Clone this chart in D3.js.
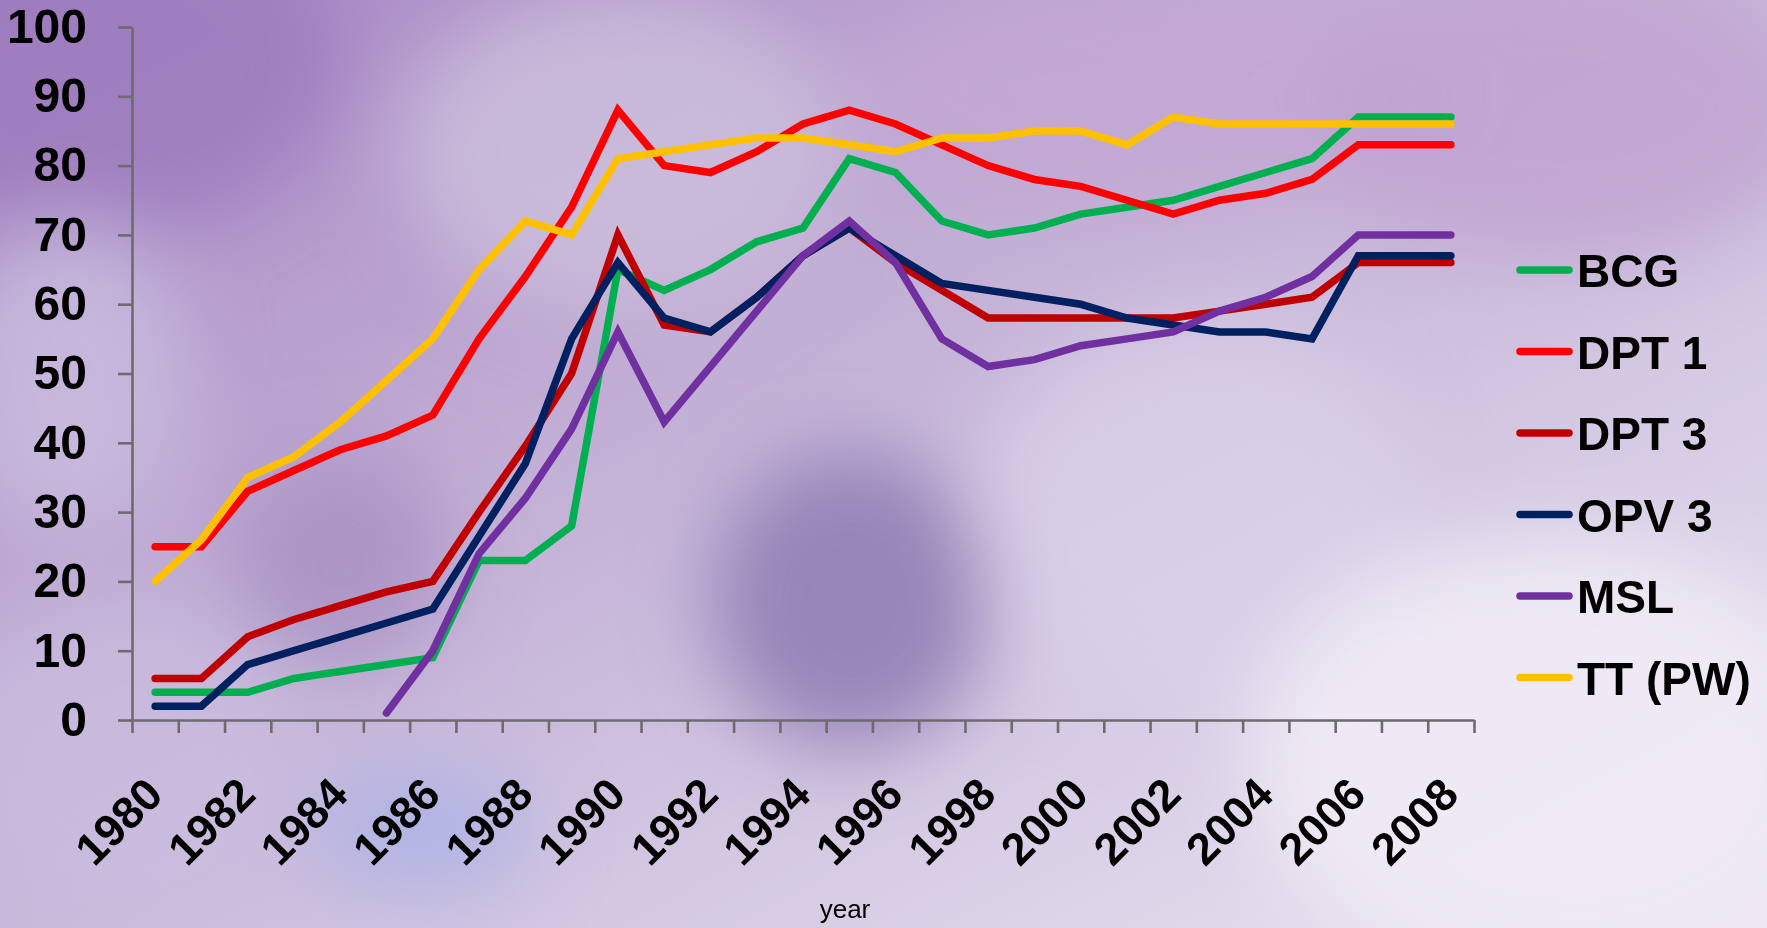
<!DOCTYPE html>
<html lang="en">
<head>
    <meta charset="UTF-8">
    <title>Immunization coverage</title>
    <script src="https://d3js.org/d3.v7.min.js"></script>
    <style>
        body {
            margin: 0;
            overflow: hidden;
        }
        svg text {
            font-family: "Liberation Sans", Arial, sans-serif;
            fill: #000;
        }
        .axis path, .axis line {
            stroke: #6e6a70;
            stroke-width: 2.6px;
        }
        .axis text {
            font-size: 48px;
            font-weight: bold;
        }
        .xlabel {
            font-size: 45px;
            font-weight: bold;
        }
        .legend text {
            font-size: 46px;
            font-weight: bold;
        }
        .series {
            fill: none;
            stroke-width: 7.5px;
            stroke-linecap: round;
        }
    </style>
</head>
<body>
    <div id="chart"></div>

    <script>
        // datos
        var years = [1980, 1981, 1982, 1983, 1984, 1985, 1986, 1987, 1988, 1989,
                     1990, 1991, 1992, 1993, 1994, 1995, 1996, 1997, 1998, 1999,
                     2000, 2001, 2002, 2003, 2004, 2005, 2006, 2007, 2008];
        var yearLabels = [1980, 1982, 1984, 1986, 1988, 1990, 1992, 1994,
                          1996, 1998, 2000, 2002, 2004, 2006, 2008];
        var yTicks = [0, 10, 20, 30, 40, 50, 60, 70, 80, 90, 100];

        var seriesNames = ["BCG", "DPT 1", "DPT 3", "OPV 3", "MSL", "TT (PW)"];
        var seriesColors = ["#00b050", "#ff0000", "#c00000", "#002060", "#7030a0", "#ffc000"];

        var bcg  = [4, 4, 4, 6, 7, 8, 9, 23, 23, 28, 65, 62, 65, 69, 71, 81, 79, 72, 70, 71, 73, 74, 75, 77, 79, 81, 87, 87, 87];
        var dpt1 = [25, 25, 33, 36, 39, 41, 44, 55, 64, 74, 88, 80, 79, 82, 86, 88, 86, 83, 80, 78, 77, 75, 73, 75, 76, 78, 83, 83, 83];
        var dpt3 = [6, 6, 12, 14.5, 16.5, 18.5, 20, 30, 39.5, 50, 70, 57, 56, 61, 67, 71, 66, 62, 58, 58, 58, 58, 58, 59, 60, 61, 66, 66, 66];
        var opv3 = [2, 2, 8, 10, 12, 14, 16, 26.5, 37, 55, 66, 58, 56, 61, 67, 71, 67, 63, 62, 61, 60, 58, 57, 56, 56, 55, 67, 67, 67];
        var msl  = [null, null, null, null, null, 1, 10, 24, 32, 42, 56, 43, 51, 59, 67, 72, 66, 55, 51, 52, 54, 55, 56, 59, 61, 64, 70, 70, 70];
        var tt   = [20, 26, 35, 38, 43, 49, 55, 65, 72, 70, 81, 82, 83, 84, 84, 83, 82, 84, 84, 85, 85, 83, 87, 86, 86, 86, 86, 86, 86];

        var seriesValues = [bcg, dpt1, dpt3, opv3, msl, tt];

        var width = 1767;
        var height = 928;
        var plot = { left: 132, right: 1474, top: 27, bottom: 720 };

        var svg = d3.select("#chart")
            .append("svg")
            .attr("width", width)
            .attr("height", height);

        // fondo difuminado
        var defs = svg.append("defs");
        defs.append("filter").attr("id", "blur")
            .attr("x", "-50%").attr("y", "-50%").attr("width", "200%").attr("height", "200%")
            .append("feGaussianBlur").attr("stdDeviation", 40);

        var base = defs.append("linearGradient").attr("id", "bg")
            .attr("x1", "0").attr("y1", "0").attr("x2", "1").attr("y2", "1");
        base.append("stop").attr("offset", "0").attr("stop-color", "#a686c4");
        base.append("stop").attr("offset", "0.35").attr("stop-color", "#bfaad3");
        base.append("stop").attr("offset", "0.7").attr("stop-color", "#d6cbe4");
        base.append("stop").attr("offset", "1").attr("stop-color", "#ece6f2");

        svg.append("rect")
            .attr("width", width)
            .attr("height", height)
            .attr("fill", "url(#bg)");

        var blobs = svg.append("g").attr("filter", "url(#blur)");
        blobs.append("ellipse").attr("cx", 80).attr("cy", 60).attr("rx", 260).attr("ry", 180)
            .attr("fill", "#9c7bbd").attr("opacity", 0.8);
        blobs.append("ellipse").attr("cx", 620).attr("cy", 150).attr("rx", 220).attr("ry", 160)
            .attr("fill", "#cdbfdc").attr("opacity", 0.8);
        blobs.append("ellipse").attr("cx", 1150).attr("cy", 90).attr("rx", 300).attr("ry", 120)
            .attr("fill", "#c3a8d3").attr("opacity", 0.8);
        blobs.append("ellipse").attr("cx", 1560).attr("cy", 110).attr("rx", 260).attr("ry", 150)
            .attr("fill", "#bfa3d0").attr("opacity", 0.85);
        blobs.append("ellipse").attr("cx", 70).attr("cy", 380).attr("rx", 120).attr("ry", 160)
            .attr("fill", "#cbbddf").attr("opacity", 0.8);
        blobs.append("ellipse").attr("cx", 850).attr("cy", 600).attr("rx", 140).attr("ry", 150)
            .attr("fill", "#917fb5").attr("opacity", 0.9);
        blobs.append("ellipse").attr("cx", 340).attr("cy", 560).attr("rx", 110).attr("ry", 110)
            .attr("fill", "#a48bbf").attr("opacity", 0.7);
        blobs.append("ellipse").attr("cx", 420).attr("cy", 830).attr("rx", 110).attr("ry", 60)
            .attr("fill", "#a7b2e6").attr("opacity", 0.8);
        blobs.append("ellipse").attr("cx", 1200).attr("cy", 520).attr("rx", 220).attr("ry", 200)
            .attr("fill", "#dcd3ea").attr("opacity", 0.7);
        blobs.append("ellipse").attr("cx", 1550).attr("cy", 760).attr("rx", 300).attr("ry", 220)
            .attr("fill", "#f0ebf5").attr("opacity", 0.9);
        blobs.append("ellipse").attr("cx", 120).attr("cy", 760).attr("rx", 180).attr("ry", 160)
            .attr("fill", "#cbbde0").attr("opacity", 0.7);

        // escalas
        var x = d3.scaleLinear()
            .domain([0, years.length])
            .range([plot.left, plot.right]);

        var y = d3.scaleLinear()
            .domain([0, 100])
            .range([plot.bottom, plot.top]);

        function xCenter(year) {
            return x(years.indexOf(year) + 0.5);
        }

        // ejes
        var tickIdx = [];
        for (var i = 0; i <= years.length; i++) tickIdx.push(i);

        svg.append("g")
            .attr("class", "axis")
            .attr("transform", "translate(0," + plot.bottom + ")")
            .call(d3.axisBottom(x).tickValues(tickIdx).tickSize(13).tickSizeOuter(0).tickFormat(""));

        svg.append("g")
            .attr("class", "axis")
            .attr("transform", "translate(" + plot.left + ",0)")
            .call(d3.axisLeft(y).tickValues(yTicks).tickSize(14).tickSizeOuter(0).tickPadding(31));

        svg.selectAll(".xlabel")
            .data(yearLabels)
            .enter().append("text")
            .attr("class", "xlabel")
            .attr("text-anchor", "end")
            .attr("transform", function(d) {
                return "translate(" + (xCenter(d) + 10) + ",797) rotate(-45)";
            })
            .text(function(d) { return d; });

        svg.append("text")
            .attr("x", 845)
            .attr("y", 918)
            .attr("text-anchor", "middle")
            .style("font-size", "26px")
            .text("year");

        // lineas
        var line = d3.line()
            .defined(function(d) { return d != null; })
            .x(function(d, i) { return x(i + 0.5); })
            .y(function(d) { return y(d); });

        svg.selectAll(".series")
            .data(seriesValues)
            .enter().append("path")
            .attr("class", "series")
            .attr("stroke", function(d, i) { return seriesColors[i]; })
            .attr("d", line);

        // leyenda
        var legend = svg.selectAll(".legend")
            .data(seriesNames)
            .enter().append("g")
            .attr("class", "legend")
            .attr("transform", function(d, i) { return "translate(1520," + (270 + i * 81.5) + ")"; });

        legend.append("line")
            .attr("x1", 0)
            .attr("x2", 49)
            .attr("stroke", function(d, i) { return seriesColors[i]; })
            .attr("stroke-width", 7.5)
            .attr("stroke-linecap", "round");

        legend.append("text")
            .attr("x", 57)
            .attr("y", 17)
            .text(function(d) { return d; });
    </script>
</body>
</html>
